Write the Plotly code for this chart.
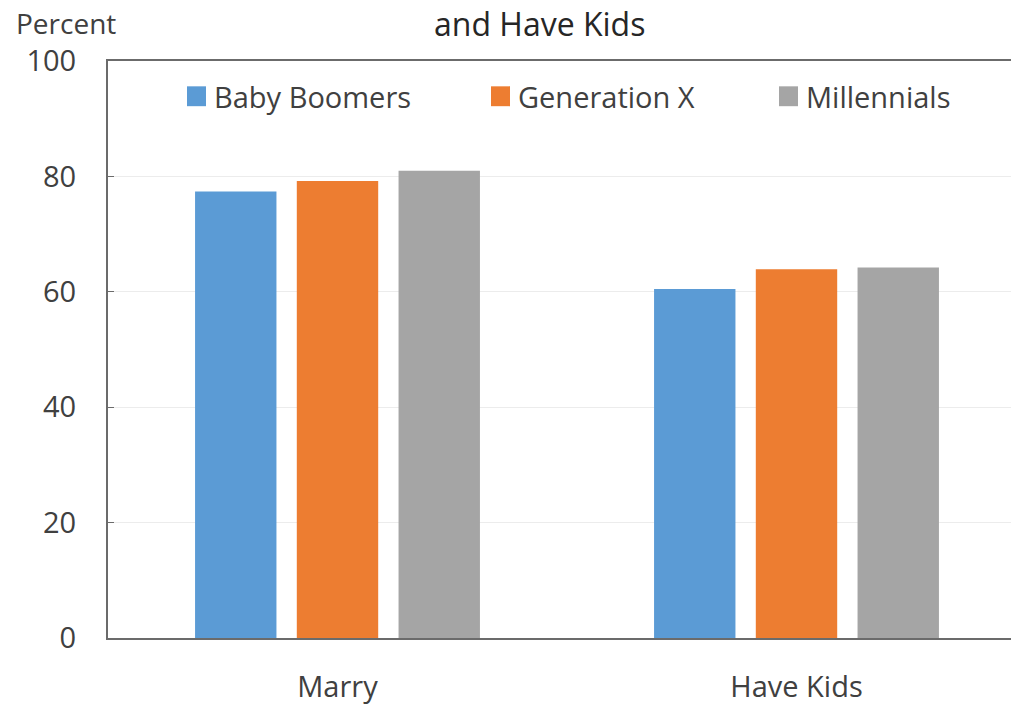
import plotly.graph_objects as go

# Share of each generation expected to marry / have kids
categories = ["Marry", "Have Kids"]
series_names = ["Baby Boomers", "Generation X", "Millennials"]
series_values = [
    [77.4, 60.5],
    [79.2, 63.9],
    [81.0, 64.2],
]
series_colors = ["#5B9BD5", "#ED7D31", "#A5A5A5"]
y_ticks = [0, 20, 40, 60, 80, 100]

FONT = "Open Sans"
TEXT = "#404040"

W, H = 1011, 705
L, R, T, B = 108, 0, 61, 63
plot_w = W - L - R
plot_h = H - T - B
cat_px = 459.0  # width of one category slot in pixels

fig = go.Figure()
for name, vals, col in zip(series_names, series_values, series_colors):
    fig.add_trace(go.Bar(x=categories, y=vals, name=name,
                         marker=dict(color=col, line=dict(width=0)),
                         showlegend=False))

def px_to_paper_x(px):
    return (px - L) / plot_w

def px_to_paper_y(py):
    return (H - B - py) / plot_h

# Legend row drawn inside the plot area
legend_x = [187, 491, 779]
legend_y = 96.5
for name, col, lx in zip(series_names, series_colors, legend_x):
    fig.add_shape(type="rect", xref="paper", yref="paper",
                  x0=px_to_paper_x(lx), x1=px_to_paper_x(lx + 19),
                  y0=px_to_paper_y(legend_y + 10), y1=px_to_paper_y(legend_y - 10),
                  fillcolor=col, line=dict(width=0), layer="above")
    fig.add_annotation(text=name, xref="paper", yref="paper",
                       x=px_to_paper_x(lx + 25), y=px_to_paper_y(legend_y),
                       xanchor="left", yanchor="middle", showarrow=False,
                       font=dict(family=FONT, size=29, color=TEXT))

# Title (second line visible) and axis unit label
fig.add_annotation(text="and Have Kids", xref="paper", yref="paper",
                   x=px_to_paper_x(539), y=px_to_paper_y(0),
                   xanchor="center", yanchor="top", showarrow=False,
                   font=dict(family=FONT, size=32, color="#262626"))
fig.add_annotation(text="Percent", xref="paper", yref="paper",
                   x=px_to_paper_x(14), y=px_to_paper_y(23),
                   xanchor="left", yanchor="middle", showarrow=False,
                   font=dict(family=FONT, size=28, color=TEXT))

fig.update_layout(
    width=W, height=H,
    margin=dict(l=L, r=R, t=T, b=B, pad=0),
    paper_bgcolor="white", plot_bgcolor="white",
    barmode="group", bargap=0.335, bargroupgap=0.2,
    font=dict(family=FONT, size=29, color=TEXT),
    showlegend=False,
)
fig.update_xaxes(
    range=[-0.5, -0.5 + plot_w / cat_px],
    showline=True, linecolor="#6b6b6b", linewidth=2, mirror=True,
    showgrid=False, ticks="", ticklabelstandoff=22,
    tickfont=dict(family=FONT, size=29, color=TEXT),
)
fig.update_yaxes(
    range=[0, 100], tickvals=y_ticks,
    showline=True, linecolor="#6b6b6b", linewidth=2, mirror=False,
    showgrid=True, gridcolor="#ECECEC", gridwidth=1,
    ticks="inside", ticklen=6, tickcolor="#6b6b6b",
    ticklabelstandoff=24, zeroline=False,
    tickfont=dict(family=FONT, size=29, color=TEXT),
)

fig.write_html("out.html")
